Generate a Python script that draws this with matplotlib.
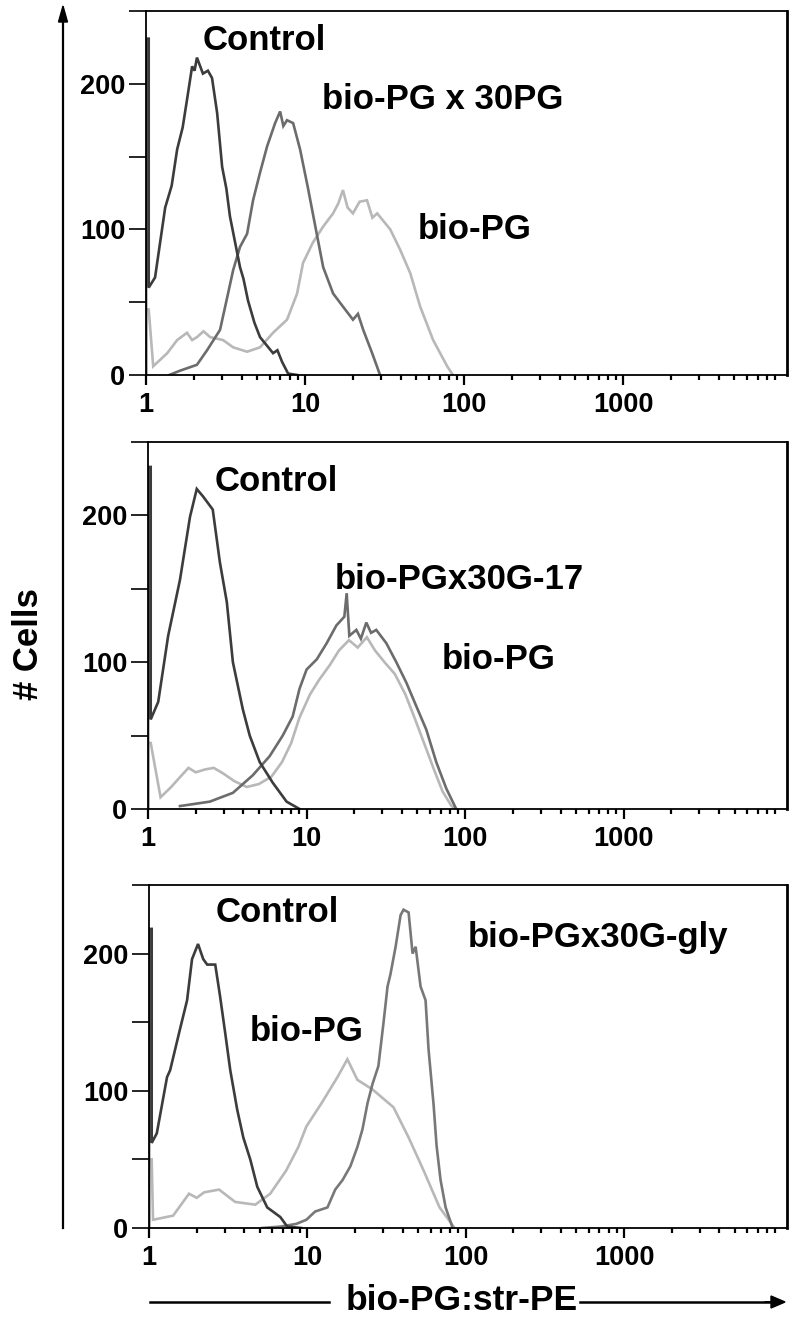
#!/usr/bin/python3
# -*- coding: utf-8 -*-
import matplotlib
matplotlib.use('Agg')
import matplotlib.pyplot as plt
from matplotlib.ticker import FixedLocator, NullFormatter

# ---- panel 1 ----
p1_ctrl_x = [1.0, 1.0, 1.04, 1.04, 1.14, 1.32, 1.45, 1.57, 1.70, 1.81, 1.95, 2.02, 2.09, 2.28,
             2.45, 2.60, 2.80, 3.01, 3.20, 3.37, 3.90, 4.10, 4.38, 4.80, 5.21, 6.29, 6.70,
             7.17, 7.82, 8.91]
p1_ctrl_y = [0, 231, 231, 60, 67, 115, 130, 155, 170, 189, 212, 209, 218, 207,
             209, 204, 180, 143, 128, 109, 74, 66, 51, 36, 26, 15, 17,
             9, 1, 0]

p1_mid_x = [1.4, 1.64, 2.09, 2.42, 2.92, 3.28, 3.53, 3.90, 4.32, 4.71, 5.21, 5.77, 6.48, 6.97,
            7.30, 7.70, 8.41, 9.30, 10.4, 11.6, 13.0, 15.0, 17.3, 20.0, 21.5, 23.2, 26.4, 29.6]
p1_mid_y = [0, 3, 7, 17, 31, 56, 72, 88, 97, 120, 139, 157, 173, 181,
            171, 175, 173, 155, 129, 102, 74, 56, 47, 38, 42, 31, 15, 0]

p1_pg_x = [1.0, 1.0, 1.04, 1.11, 1.36, 1.57, 1.81, 1.95, 2.09, 2.30, 2.53, 3.05, 3.53, 4.32,
           5.21, 6.29, 7.70, 8.91, 9.71, 11.2, 13.0, 15.0, 16.2, 17.3, 18.5, 20.0, 22.0,
           24.5, 26.5, 28.4, 34.3, 39.6, 45.8, 52.9, 63.8, 78.2, 85.0]
p1_pg_y = [0, 45, 45, 6, 15, 24, 29, 24, 26, 30, 26, 24, 19, 16,
           19, 29, 38, 56, 77, 91, 102, 111, 118, 127, 115, 111, 119,
           120, 108, 111, 100, 86, 70, 47, 24, 6, 0]

# ---- panel 2 ----
p2_ctrl_x = [1.0, 1.0, 1.04, 1.04, 1.16, 1.34, 1.59, 1.84, 2.03, 2.22, 2.56, 2.84, 3.14,
             3.43, 3.96, 4.38, 5.06, 6.11, 7.48, 9.03]
p2_ctrl_y = [0, 233, 233, 61, 73, 118, 156, 199, 218, 213, 204, 168, 141,
             100, 68, 50, 32, 18, 5, 0]

p2_mid_x = [1.59, 2.45, 3.43, 4.58, 5.85, 7.07, 8.17, 9.03, 10.0, 11.6, 13.4, 15.4, 17.3,
            17.9, 18.6, 20.6, 22.0, 23.8, 25.5, 27.5, 31.8, 36.8, 42.6, 49.2, 56.9, 65.7,
            76.0, 87.8]
p2_mid_y = [2, 5, 11, 23, 36, 50, 63, 82, 95, 102, 113, 125, 131,
            147, 118, 122, 116, 127, 120, 122, 113, 100, 86, 70, 54, 32,
            14, 0]

p2_pg_x = [1.0, 1.0, 1.04, 1.2, 1.4, 1.6, 1.8, 2.0, 2.3, 2.6, 3.0, 3.5, 4.2, 5.0, 6.0,
           7.0, 8.0, 9.0, 10.5, 12.0, 14.0, 16.0, 18.5, 21.0, 24.0, 27.0, 31.0, 36.0,
           42.0, 48.0, 55.0, 63.0, 72.0, 82.0, 88.0]
p2_pg_y = [0, 45, 45, 8, 15, 22, 28, 25, 27, 28, 24, 19, 15, 17, 22,
           32, 45, 62, 78, 88, 98, 108, 115, 110, 117, 108, 100, 92,
           78, 62, 45, 28, 12, 2, 0]

# ---- panel 3 ----
p3_ctrl_x = [1.0, 1.0, 1.04, 1.04, 1.12, 1.30, 1.36, 1.57, 1.74, 1.87, 2.04, 2.20, 2.33,
             2.62, 2.81, 3.03, 3.26, 3.61, 3.94, 4.36, 4.83, 5.58, 6.75, 7.47, 9.16]
p3_ctrl_y = [0, 218, 218, 62, 69, 110, 115, 145, 166, 196, 207, 196, 192,
             192, 169, 142, 115, 86, 66, 50, 30, 15, 8, 1, 0]

p3_mid_x = [5.19, 6.75, 8.52, 9.86, 11.2, 13.4, 15.0, 16.7, 18.7, 20.7, 22.3, 24.0, 25.8,
            28.1, 30.3, 32.1, 33.5, 36.1, 38.8, 40.5, 43.6, 46.2, 48.3, 51.9, 55.8,
            58.3, 62.7, 65.5, 69.4, 74.7, 82.8]
p3_mid_y = [0, 1, 3, 6, 12, 15, 28, 35, 45, 59, 72, 91, 105,
            118, 150, 176, 185, 205, 228, 232, 230, 200, 205, 176, 166,
            130, 90, 60, 35, 15, 0]

p3_pg_x = [1.0, 1.0, 1.04, 1.06, 1.42, 1.79, 2.00, 2.23, 2.77, 3.50, 4.69, 5.83, 7.36, 8.77,
           9.86, 12.3, 15.5, 17.9, 20.7, 25.8, 35.0, 43.6, 54.2, 68.4, 85.2]
p3_pg_y = [0, 50, 50, 6, 9, 25, 22, 26, 28, 19, 17, 25, 42, 59,
           74, 91, 110, 123, 108, 101, 88, 66, 42, 15, 0]

# label text and anchor (x value, count)
p1_labels = [('Control', 2.28, 230), ('bio-PG x 30PG', 12.8, 189), ('bio-PG', 51.4, 100)]
p2_labels = [('Control', 2.64, 223), ('bio-PGx30G-17', 15.0, 156), ('bio-PG', 70.7, 102)]
p3_labels = [('Control', 2.62, 230), ('bio-PG', 4.36, 143), ('bio-PGx30G-gly', 103, 212)]

x_ticks = [1, 10, 100, 1000]
x_tick_labels = ['1', '10', '100', '1000']
y_ticks = [0, 100, 200]
y_minor = [50, 150, 250]

CTRL = '#3c3c3c'
MID = '#6c6c6c'
LIGHT = '#b8b8b8'
FONT = ['Liberation Sans', 'DejaVu Sans']


def style_axes(ax):
    ax.set_xscale('log')
    ax.set_xlim(1, 10700)
    ax.set_ylim(0, 250)
    ax.set_xticks(x_ticks)
    ax.set_xticklabels(x_tick_labels)
    ax.set_yticks(y_ticks)
    ax.set_yticklabels([str(v) for v in y_ticks])
    ax.yaxis.set_minor_locator(FixedLocator(y_minor))
    ax.yaxis.set_minor_formatter(NullFormatter())
    ax.tick_params(axis='y', which='both', direction='out', length=12, width=1.2, pad=3)
    ax.tick_params(axis='x', which='major', direction='out', length=7, width=1.6, pad=5)
    ax.tick_params(axis='x', which='minor', direction='out', length=3.5, width=1.6)
    for lab in ax.get_xticklabels() + ax.get_yticklabels():
        lab.set_fontfamily(FONT)
        lab.set_fontweight('bold')
        lab.set_fontsize(19.5)
    for s in ['left', 'bottom', 'top']:
        ax.spines[s].set_linewidth(1.3)
    ax.spines['right'].set_linewidth(2.0)


def draw_panel(ax, curves, labels):
    for xs, ys, color in curves:
        ax.plot(xs, ys, color=color, lw=1.9, solid_joinstyle='miter')
    for text, xv, yv in labels:
        ax.text(xv, yv, text, ha='left', va='center', fontsize=25,
                fontweight='bold', family=FONT)
    style_axes(ax)


def main():
    fig = plt.figure(figsize=(8, 13.3), dpi=100)

    ax1 = fig.add_axes([146 / 800, 1 - 375 / 1330, 641 / 800, 364 / 1330])
    ax2 = fig.add_axes([148 / 800, 1 - 809 / 1330, 639 / 800, 367 / 1330])
    ax3 = fig.add_axes([149 / 800, 1 - 1228 / 1330, 638 / 800, 343 / 1330])

    draw_panel(ax1, [(p1_pg_x, p1_pg_y, LIGHT), (p1_mid_x, p1_mid_y, MID),
                     (p1_ctrl_x, p1_ctrl_y, CTRL)], p1_labels)
    draw_panel(ax2, [(p2_pg_x, p2_pg_y, LIGHT), (p2_mid_x, p2_mid_y, MID),
                     (p2_ctrl_x, p2_ctrl_y, CTRL)], p2_labels)
    draw_panel(ax3, [(p3_pg_x, p3_pg_y, LIGHT), (p3_mid_x, p3_mid_y, '#787878'),
                     (p3_ctrl_x, p3_ctrl_y, CTRL)], p3_labels)

    # y-axis arrow and label
    fig.add_artist(plt.Line2D([63 / 800, 63 / 800], [1 - 1228 / 1330, 1 - 20 / 1330],
                              color='black', lw=1.6))
    fig.patches.append(matplotlib.patches.FancyArrow(
        63 / 800, 1 - 30 / 1330, 0, 24 / 1330, width=0.0001, head_width=9 / 800,
        head_length=16 / 1330, length_includes_head=True, color='black',
        transform=fig.transFigure, figure=fig))
    fig.text(28 / 800, 1 - 644 / 1330, '# Cells', rotation=90, ha='center', va='center',
             fontsize=25, fontweight='bold', family=FONT)

    # x-axis arrow and label
    yb = 1 - 1302 / 1330
    fig.add_artist(plt.Line2D([150 / 800, 329 / 800], [yb, yb], color='black', lw=1.8))
    fig.add_artist(plt.Line2D([580 / 800, 772 / 800], [yb, yb], color='black', lw=1.8))
    fig.patches.append(matplotlib.patches.FancyArrow(
        765 / 800, yb, 20 / 800, 0, width=0.0001, head_width=12 / 1330,
        head_length=14 / 800, length_includes_head=True, color='black',
        transform=fig.transFigure, figure=fig))
    fig.text(462 / 800, 1 - 1300 / 1330, 'bio-PG:str-PE', ha='center', va='center',
             fontsize=25.5, fontweight='bold', family=FONT)

    fig.savefig('out.png', dpi=100)


if __name__ == '__main__':
    main()
